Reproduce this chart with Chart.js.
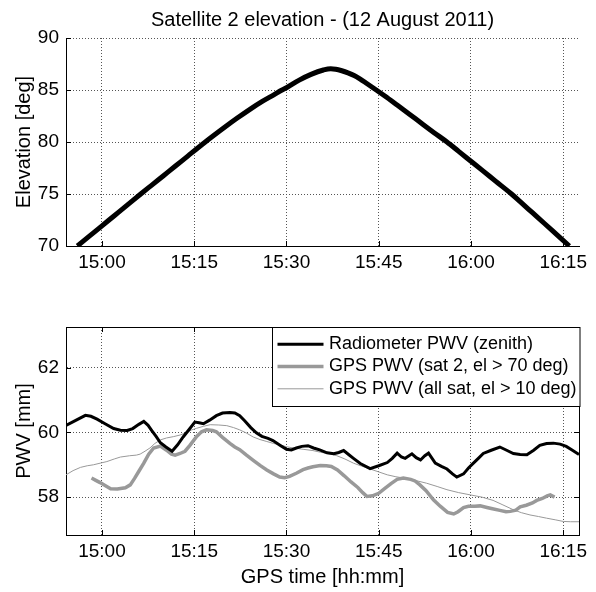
<!DOCTYPE html>
<html>
<head>
<meta charset="utf-8">
<script src="https://cdn.jsdelivr.net/npm/chart.js@4.4.1/dist/chart.umd.min.js"></script>
<style>
  html, body { margin: 0; padding: 0; background: #fff; }
  #wrap { position: relative; width: 596px; height: 592px; }
  canvas { position: absolute; left: 0; }
  #top { top: 0; }
  #bot { top: 300px; }
</style>
</head>
<body>
<div id="wrap">
  <canvas id="top" width="596" height="300"></canvas>
  <canvas id="bot" width="596" height="292"></canvas>
</div>
<script>
// time values are minutes after 14:00 (GPS time)
const X_MIN = 54.15, X_MAX = 137.57;
const timeTicks = [60, 75, 90, 105, 120, 135];
const elevTicks = [70, 75, 80, 85, 90];
const pwvTicks = [58, 60, 62];

// satellite 2 elevation
const elevTime = [56.0, 58, 60, 62, 64, 66.3, 68, 70, 72, 74, 76.8, 78, 80, 82, 84, 86, 88, 89.2, 90, 92, 94, 96, 97.2,
  98, 99, 100, 101, 102, 103, 104.6, 106, 108, 110, 112, 114, 116.1, 118, 120, 122, 124, 126.6, 128, 130, 132, 134, 136.0];
const elevDeg = [70.0, 70.97, 71.94, 72.91, 73.88, 75.0, 75.81, 76.76, 77.71, 78.67, 80.0, 80.55, 81.44, 82.3, 83.12, 83.88, 84.56, 84.98, 85.22, 85.93, 86.5, 86.92, 87.05,
  87.0, 86.85, 86.65, 86.4, 86.05, 85.65, 85.0, 84.42, 83.55, 82.67, 81.78, 80.9, 80.0, 79.1, 78.15, 77.2, 76.24, 75.0, 74.26, 73.2, 72.14, 71.07, 70.0];

// radiometer PWV (zenith)
const radTime = [54.15, 55.5, 57.3, 58.2, 59.2, 60.5, 61.9, 63.0, 64.1, 65.0, 66.0, 66.8, 67.5, 68.1, 68.8, 69.5, 70.4, 71.4,
  72.3, 73.2, 74.2, 75.1, 75.8, 76.5, 77.5, 78.6, 79.6, 80.8, 81.6, 82.4, 83.2, 84.2, 85.1, 86.0, 87.0, 87.8, 89.0, 90.0,
  90.8, 91.6, 92.5, 93.5, 94.4, 95.4, 96.6, 97.7, 98.5, 99.3, 100.1, 100.9, 102.0, 103.6, 105.0, 106.4, 107.2, 108.0,
  108.7, 109.3, 110.4, 111.1, 111.8, 112.5, 113.1, 114.2, 115.2, 116.1, 117.0, 117.7, 118.8, 119.6, 120.4, 121.2, 122.0,
  123.3, 124.7, 125.8, 126.9, 128.0, 129.1, 130.2, 131.2, 132.3, 133.4, 134.5, 135.5, 136.5, 137.57];
const radPwv = [60.22, 60.35, 60.53, 60.5, 60.41, 60.27, 60.12, 60.07, 60.06, 60.12, 60.25, 60.34, 60.22, 60.06, 59.88, 59.68, 59.55, 59.42,
  59.62, 59.86, 60.1, 60.32, 60.3, 60.27, 60.38, 60.52, 60.6, 60.62, 60.6, 60.52, 60.36, 60.15, 59.99, 59.88, 59.82, 59.75, 59.6, 59.48,
  59.46, 59.52, 59.57, 59.59, 59.52, 59.46, 59.37, 59.34, 59.38, 59.44, 59.32, 59.2, 59.04, 58.88, 58.97, 59.07, 59.2, 59.36,
  59.24, 59.2, 59.34, 59.22, 59.15, 59.28, 59.36, 59.05, 58.95, 58.87, 58.72, 58.62, 58.72, 58.9, 59.05, 59.2, 59.35,
  59.45, 59.55, 59.45, 59.35, 59.32, 59.31, 59.45, 59.6, 59.66, 59.67, 59.64, 59.57, 59.45, 59.32];

// GPS PWV, satellite 2 only (el > 70 deg)
const sat2Time = [58.3, 59.0, 59.7, 60.5, 61.4, 62.5, 63.8, 64.6, 65.3, 66.0, 66.8, 67.6, 68.4, 69.5, 70.5, 71.3, 71.9, 72.7,
  73.5, 74.3, 75.4, 76.2, 77.0, 78.0, 78.6, 79.6, 80.8, 81.6, 82.4, 83.5, 84.6, 85.7, 86.8, 87.9, 88.9, 89.7, 90.5, 91.6,
  92.7, 93.5, 94.3, 95.5, 96.5, 97.3, 98.3, 99.4, 100.5, 101.6, 102.4, 103.1, 104.0, 105.0, 106.0, 107.0, 108.0, 109.0,
  110.2, 110.9, 111.7, 112.7, 113.9, 115.0, 116.2, 117.2, 117.9, 118.8, 119.6, 120.6, 121.5, 122.6, 123.5, 124.7, 125.7,
  126.4, 127.3, 128.0, 129.0, 130.0, 130.7, 131.6, 132.4, 132.9, 133.6];
const sat2Pwv = [58.59, 58.52, 58.45, 58.36, 58.26, 58.25, 58.29, 58.38, 58.58, 58.8, 59.05, 59.33, 59.52, 59.58, 59.45, 59.33, 59.3, 59.35,
  59.42, 59.6, 59.88, 60.02, 60.08, 60.06, 60.02, 59.85, 59.66, 59.55, 59.47, 59.3, 59.14, 58.98, 58.84, 58.72, 58.62, 58.6, 58.64, 58.74,
  58.85, 58.9, 58.94, 58.98, 58.97, 58.95, 58.84, 58.66, 58.47, 58.3, 58.14, 58.02, 58.04, 58.12, 58.27, 58.42, 58.55, 58.59,
  58.55, 58.5, 58.38, 58.2, 57.92, 57.72, 57.53, 57.48, 57.55, 57.68, 57.72, 57.72, 57.73, 57.68, 57.64, 57.59, 57.55,
  57.56, 57.6, 57.7, 57.75, 57.82, 57.9, 57.96, 58.04, 58.07, 58.0];

// GPS PWV, all satellites (el > 10 deg)
const allTime = [54.15, 55.3, 56.5, 57.6, 58.6, 59.7, 60.8, 62.0, 63.0, 64.5, 65.6, 66.2, 67.0, 67.8, 68.6, 69.5, 70.5, 71.6,
  72.7, 73.8, 74.6, 75.4, 76.5, 77.6, 79.0, 80.3, 81.4, 82.4, 83.5, 84.6, 85.7, 86.8, 87.9, 88.9, 90.0, 91.1, 92.7, 94.3,
  95.5, 97.0, 98.2, 99.5, 100.9, 102.2, 103.6, 105.0, 106.4, 107.8, 109.1, 110.9, 112.8, 114.5, 116.1, 118.0, 119.9,
  121.8, 123.6, 125.2, 126.9, 128.2, 129.6, 131.0, 132.3, 133.7, 135.0, 136.2, 137.57];
const allPwv = [58.69, 58.82, 58.92, 58.97, 59.0, 59.05, 59.1, 59.18, 59.24, 59.28, 59.3, 59.33, 59.42, 59.52, 59.66, 59.77, 59.83, 59.87,
  59.92, 60.0, 60.08, 60.13, 60.19, 60.24, 60.23, 60.21, 60.15, 60.08, 59.98, 59.86, 59.78, 59.72, 59.66, 59.62, 59.56, 59.52, 59.48, 59.44,
  59.39, 59.34, 59.28, 59.18, 59.05, 58.96, 58.87, 58.78, 58.69, 58.63, 58.59, 58.52, 58.43, 58.33, 58.23, 58.14, 58.07,
  58.0, 57.9, 57.76, 57.61, 57.52, 57.45, 57.4, 57.35, 57.3, 57.25, 57.24, 57.24];

const FONT = "'Liberation Sans', Arial, Helvetica, sans-serif";
Chart.defaults.font.family = FONT;
Chart.defaults.color = '#000';

const xy = (xs, ys) => xs.map((x, i) => ({ x: x, y: ys[i] }));
const hhmm = v => {
  const h = 14 + Math.floor(v / 60);
  const m = Math.round(v % 60);
  return h + ':' + String(m).padStart(2, '0');
};

// MATLAB-like inward tick marks (and box for the lower axes)
const matlabAxes = {
  id: 'matlabAxes',
  afterDraw(chart, args, opts) {
    const { ctx, chartArea: a, scales: { x, y } } = chart;
    const L = 5;
    ctx.save();
    ctx.strokeStyle = '#000';
    ctx.lineWidth = 1;
    ctx.beginPath();
    x.ticks.forEach(t => {
      const px = Math.round(x.getPixelForValue(t.value)) + 0.5;
      ctx.moveTo(px, a.bottom); ctx.lineTo(px, a.bottom - L);
      if (opts.box) { ctx.moveTo(px, a.top); ctx.lineTo(px, a.top + L); }
    });
    y.ticks.forEach(t => {
      const py = Math.round(y.getPixelForValue(t.value)) + 0.5;
      ctx.moveTo(a.left, py); ctx.lineTo(a.left + L, py);
      if (opts.box) { ctx.moveTo(a.right, py); ctx.lineTo(a.right - L, py); }
    });
    if (opts.box) {
      ctx.moveTo(a.left, Math.round(a.top) + 0.5); ctx.lineTo(a.right, Math.round(a.top) + 0.5);
      ctx.moveTo(Math.round(a.right) + 0.5, a.top); ctx.lineTo(Math.round(a.right) + 0.5, a.bottom);
    }
    ctx.stroke();
    ctx.restore();
  }
};

// boxed legend in the upper right corner of the lower axes
const boxLegend = {
  id: 'boxLegend',
  afterDraw(chart, args, opts) {
    if (!opts.display) return;
    const { ctx, chartArea: a } = chart;
    const left = Math.round(a.right - opts.width) + 0.5;
    const top = Math.round(a.top) + 0.5;
    ctx.save();
    ctx.fillStyle = '#fff';
    ctx.fillRect(left, top, opts.width, opts.height);
    ctx.strokeStyle = '#000';
    ctx.lineWidth = 1;
    ctx.strokeRect(left, top, opts.width, opts.height);
    ctx.font = opts.fontSize + 'px ' + FONT;
    ctx.textBaseline = 'middle';
    ctx.fillStyle = '#000';
    chart.data.datasets.forEach((ds, i) => {
      const yy = top + opts.firstRow + i * opts.rowGap;
      ctx.strokeStyle = ds.borderColor;
      ctx.lineWidth = ds.borderWidth;
      ctx.beginPath();
      ctx.moveTo(left + 5, yy);
      ctx.lineTo(left + 51, yy);
      ctx.stroke();
      ctx.fillText(ds.label, left + 56.5, yy);
    });
    ctx.restore();
  }
};

const gridOpts = { color: '#555', lineWidth: 1, drawTicks: false };
const borderOpts = { display: true, color: '#000', width: 1, dash: [1, 2] };
const tickFont = { size: 19 };
const axisTitleFont = { size: 20 };

function xAxis(height, title) {
  return {
    type: 'linear', min: X_MIN, max: X_MAX,
    afterBuildTicks: a => { a.ticks = timeTicks.map(v => ({ value: v })); },
    afterFit: s => { s.height = height; },
    ticks: { callback: hhmm, padding: 5.5, font: tickFont, color: '#000', maxRotation: 0, autoSkip: false },
    grid: gridOpts, border: borderOpts,
    title: title
      ? { display: true, text: title, font: axisTitleFont, color: '#000', padding: { top: 0, bottom: 3 } }
      : { display: false }
  };
}
function yAxis(min, max, tickVals, title) {
  return {
    min: min, max: max,
    afterBuildTicks: a => { a.ticks = tickVals.map(v => ({ value: v })); },
    afterFit: s => { s.width = 66; },
    ticks: { padding: 7, font: tickFont, color: '#000' },
    grid: gridOpts, border: borderOpts,
    title: { display: true, text: title, font: axisTitleFont, color: '#000', padding: { top: 12, bottom: 0 } }
  };
}

new Chart(document.getElementById('top'), {
  type: 'line',
  data: {
    datasets: [{
      label: 'Satellite 2 elevation',
      data: xy(elevTime, elevDeg),
      borderColor: '#000', borderWidth: 5, pointRadius: 0,
      cubicInterpolationMode: 'monotone'
    }]
  },
  options: {
    responsive: false, animation: false, devicePixelRatio: 1, events: [],
    layout: { padding: { left: 0, right: 17, top: 0, bottom: 0 } },
    scales: {
      x: xAxis(54, null),
      y: yAxis(70, 90, elevTicks, 'Elevation [deg]')
    },
    plugins: {
      legend: { display: false },
      tooltip: { enabled: false },
      title: {
        display: true, fullSize: false,
        text: 'Satellite 2 elevation - (12 August 2011)',
        font: { size: 20, weight: 'normal' }, color: '#000',
        padding: { top: 8, bottom: 6 }
      },
      matlabAxes: { box: false }
    }
  },
  plugins: [matlabAxes]
});

new Chart(document.getElementById('bot'), {
  type: 'line',
  data: {
    datasets: [
      { label: 'Radiometer PWV (zenith)', data: xy(radTime, radPwv),
        borderColor: '#000', borderWidth: 3, pointRadius: 0 },
      { label: 'GPS PWV (sat 2, el > 70 deg)', data: xy(sat2Time, sat2Pwv),
        borderColor: '#999', borderWidth: 3.5, pointRadius: 0 },
      { label: 'GPS PWV (all sat, el > 10 deg)', data: xy(allTime, allPwv),
        borderColor: '#999', borderWidth: 1, pointRadius: 0 }
    ]
  },
  options: {
    responsive: false, animation: false, devicePixelRatio: 1, events: [],
    layout: { padding: { left: 0, right: 17, top: 27, bottom: 0 } },
    scales: {
      x: xAxis(57, 'GPS time [hh:mm]'),
      y: yAxis(56.83, 63.26, pwvTicks, 'PWV [mm]')
    },
    plugins: {
      legend: { display: false },
      tooltip: { enabled: false },
      matlabAxes: { box: true },
      boxLegend: { display: true, width: 307.5, height: 79, firstRow: 16.7, rowGap: 22.3, fontSize: 18 }
    }
  },
  plugins: [matlabAxes, boxLegend]
});
</script>
</body>
</html>
